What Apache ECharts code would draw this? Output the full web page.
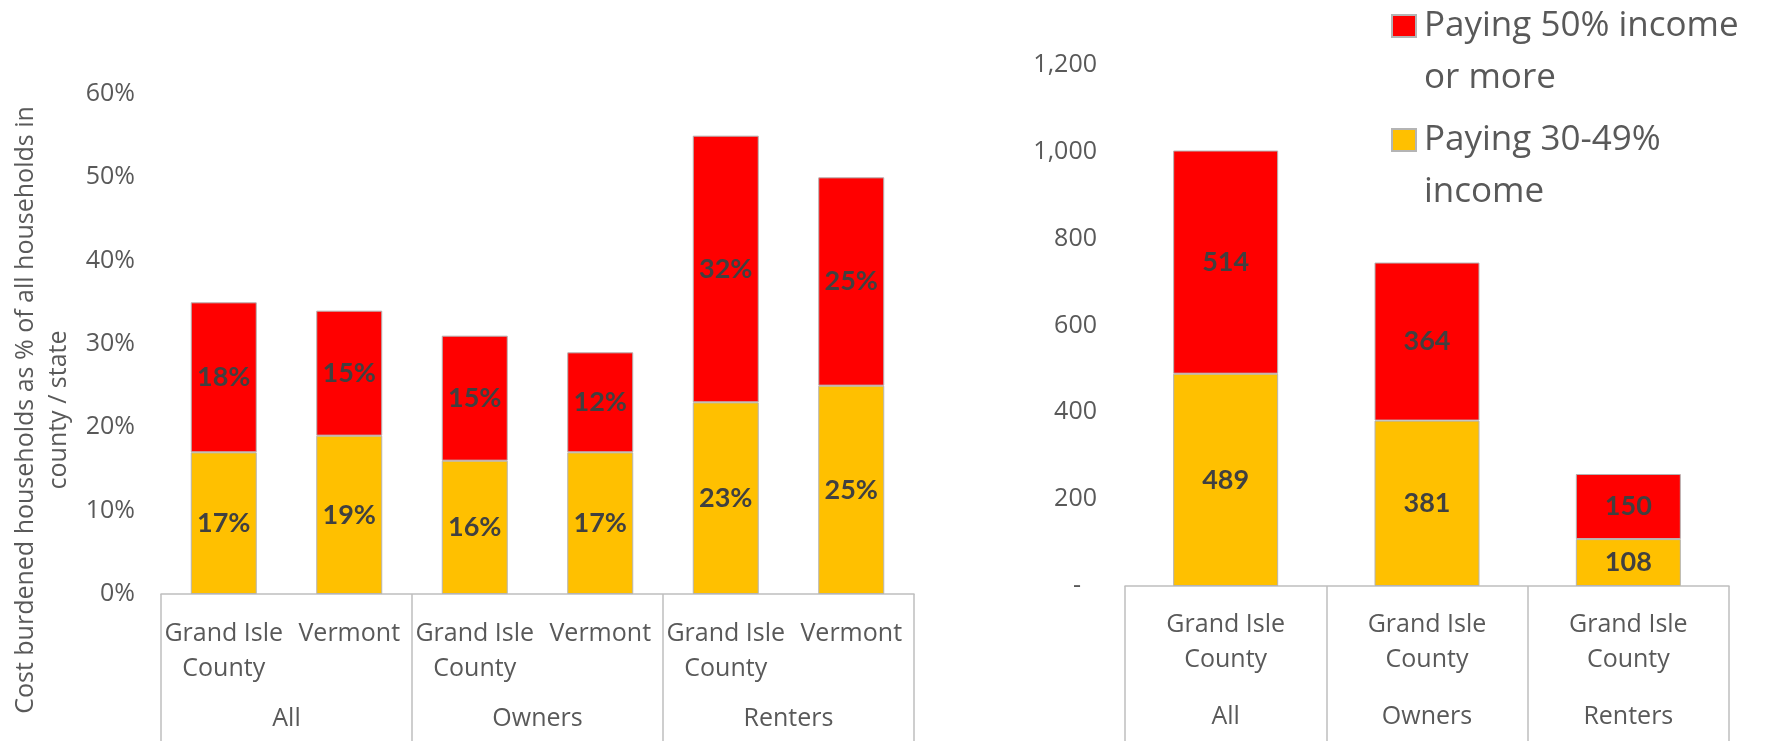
<!DOCTYPE html>
<html>
<head>
<meta charset="utf-8">
<script src="https://cdn.jsdelivr.net/npm/echarts@6/dist/echarts.min.js"></script>
<style>
  html, body { margin: 0; padding: 0; background: #fff; }
  #chartmain { width: 1781px; height: 741px; }
</style>
</head>
<body>
<div id="chartmain"></div>
<script>
// left chart: share of households (%)
var groups = ['All', 'Owners', 'Renters'];
var leftCats = ['Grand Isle\nCounty', 'Vermont', 'Grand Isle\nCounty', 'Vermont', 'Grand Isle\nCounty', 'Vermont'];
var leftPay30 = [17, 19, 16, 17, 23, 25];
var leftPay50 = [18, 15, 15, 12, 32, 25];
var leftTicks = [0, 10, 20, 30, 40, 50, 60];

// right chart: number of households in Grand Isle County
var rightCats = ['Grand Isle\nCounty', 'Grand Isle\nCounty', 'Grand Isle\nCounty'];
var rightPay30 = [489, 381, 108];
var rightPay50 = [514, 364, 150];
var rightTicks = [0, 200, 400, 600, 800, 1000, 1200];

var name50 = 'Paying 50% income\nor more';
var name30 = 'Paying 30-49%\nincome';

var font = '"Open Sans", sans-serif';
var labelFont = 'Lato, "Open Sans", sans-serif';
var textGray = '#595959';
var lineGray = '#bfbfbf';

function groupAxis(grid, tickLen, margin) {
    return {
        type: 'category',
        gridIndex: grid,
        position: 'bottom',
        data: groups,
        axisLine: { show: true, lineStyle: { color: lineGray, width: 1.5 } },
        axisTick: { show: true, interval: 0, length: tickLen, lineStyle: { color: lineGray, width: 1.5 } },
        axisLabel: { interval: 0, margin: margin, color: textGray, fontFamily: font, fontSize: 25, lineHeight: 30 },
        splitLine: { show: false }
    };
}

function innerAxis(grid, cats, margin) {
    return {
        type: 'category',
        gridIndex: grid,
        position: 'bottom',
        data: cats,
        axisLine: { show: false },
        axisTick: { show: false },
        axisLabel: { interval: 0, margin: margin, color: textGray, fontFamily: font, fontSize: 25, lineHeight: 35 },
        splitLine: { show: false }
    };
}

function barSeries(name, color, data, xi, yi, stack, width, fmt) {
    return {
        name: name,
        type: 'bar',
        stack: stack,
        xAxisIndex: xi,
        yAxisIndex: yi,
        barWidth: width,
        data: data,
        itemStyle: { color: color, borderColor: '#b4b4b4', borderWidth: 1 },
        label: {
            show: true,
            position: 'inside',
            formatter: fmt,
            color: '#404040',
            fontFamily: labelFont,
            fontWeight: 'bold',
            fontSize: 27
        }
    };
}

var option = {
    animation: false,
    backgroundColor: '#fff',
    grid: [
        { left: 161, right: 867, top: 94, bottom: 147 },
        { left: 1125, right: 52, top: 65, bottom: 155 }
    ],
    legend: {
        orient: 'vertical',
        left: 1391,
        top: -52,
        padding: 0,
        itemGap: -42,
        itemWidth: 24,
        itemHeight: 22,
        icon: 'rect',
        data: [name50, name30],
        // leading blank line puts the first text line level with the square
        formatter: function (name) { return '\n' + name; },
        textStyle: {
            color: textGray,
            fontFamily: font,
            fontSize: 35,
            lineHeight: 52,
            padding: [0, 0, 0, 3]
        }
    },
    graphic: [{
        type: 'text',
        x: 42,
        y: 410,
        rotation: Math.PI / 2,
        style: {
            text: 'Cost burdened households as % of all households in\ncounty / state',
            fill: textGray,
            font: '25px ' + font,
            lineHeight: 33,
            align: 'center',
            verticalAlign: 'middle'
        }
    }],
    xAxis: [
        innerAxis(0, leftCats, 22),
        groupAxis(0, 147, 110),
        innerAxis(1, rightCats, 21),
        groupAxis(1, 155, 116)
    ],
    yAxis: [{
        type: 'value',
        gridIndex: 0,
        min: leftTicks[0],
        max: leftTicks[leftTicks.length - 1],
        interval: 10,
        axisLine: { show: false },
        axisTick: { show: false },
        splitLine: { show: false },
        axisLabel: { margin: 26, color: textGray, fontFamily: font, fontSize: 25, formatter: '{value}%' }
    }, {
        type: 'value',
        gridIndex: 1,
        min: rightTicks[0],
        max: rightTicks[rightTicks.length - 1],
        interval: 200,
        axisLine: { show: false },
        axisTick: { show: false },
        splitLine: { show: false },
        axisLabel: {
            margin: 28,
            color: textGray,
            fontFamily: font,
            fontSize: 25,
            formatter: function (v) {
                return v === 0 ? '{dash|-}' : v.toLocaleString('en-US');
            },
            rich: { dash: { padding: [0, 16, 0, 0], color: textGray, fontFamily: font, fontSize: 25 } }
        }
    }],
    series: [
        barSeries(name30, '#FFC000', leftPay30, 0, 0, 'left', 66, '{c}%'),
        barSeries(name50, '#FF0000', leftPay50, 0, 0, 'left', 66, '{c}%'),
        barSeries(name30, '#FFC000', rightPay30, 2, 1, 'right', 105, '{c}'),
        barSeries(name50, '#FF0000', rightPay50, 2, 1, 'right', 105, '{c}')
    ]
};

var myChart = echarts.init(document.getElementById('chartmain'));
myChart.setOption(option);
</script>
</body>
</html>
